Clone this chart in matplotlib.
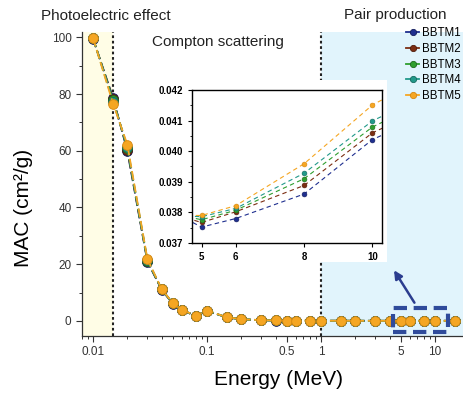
import matplotlib
matplotlib.use("Agg")
import matplotlib.pyplot as plt
from matplotlib.lines import Line2D
from matplotlib.patches import Rectangle
from matplotlib.ticker import LogLocator, MultipleLocator, NullFormatter, FixedLocator, FormatStrFormatter

plt.rcParams["font.family"] = ["Liberation Sans", "DejaVu Sans"]

# photon energy (MeV)
energy = [0.01, 0.015, 0.02, 0.03, 0.04, 0.05, 0.06, 0.08, 0.1, 0.15, 0.2, 0.3, 0.4,
          0.5, 0.6, 0.8, 1, 1.5, 2, 3, 4, 5, 6, 8, 10, 15]

# mass attenuation coefficient (cm2/g)
bbtm1 = [99.5, 78.7, 59.9, 20.9, 11.0, 6.1, 3.8, 1.75, 3.5, 1.22, 0.60, 0.24, 0.15,
         0.115, 0.092, 0.072, 0.062, 0.050, 0.044, 0.0393, 0.0381, 0.03752, 0.03780, 0.03860, 0.04038, 0.0429]
bbtm2 = [99.6, 78.3, 60.4, 21.1, 11.1, 6.15, 3.85, 1.77, 3.55, 1.23, 0.61, 0.245, 0.155,
         0.117, 0.093, 0.073, 0.063, 0.051, 0.0445, 0.0395, 0.0380, 0.03767, 0.03802, 0.03888, 0.04060, 0.0432]
bbtm3 = [99.7, 77.9, 60.9, 21.3, 11.15, 6.2, 3.88, 1.79, 3.58, 1.24, 0.615, 0.248, 0.157,
         0.118, 0.094, 0.074, 0.063, 0.051, 0.045, 0.0396, 0.0380, 0.03776, 0.03807, 0.03910, 0.04079, 0.0435]
bbtm4 = [99.7, 77.3, 61.5, 21.5, 11.2, 6.25, 3.9, 1.8, 3.6, 1.25, 0.62, 0.25, 0.16,
         0.12, 0.095, 0.075, 0.064, 0.052, 0.0455, 0.0397, 0.0379, 0.03786, 0.03813, 0.03928, 0.04099, 0.0437]
bbtm5 = [99.8, 76.6, 62.2, 21.8, 11.3, 6.3, 3.95, 1.82, 3.65, 1.27, 0.63, 0.255, 0.162,
         0.122, 0.097, 0.076, 0.065, 0.053, 0.046, 0.0398, 0.0379, 0.03790, 0.03822, 0.03959, 0.04151, 0.0445]

names = ["BBTM1", "BBTM2", "BBTM3", "BBTM4", "BBTM5"]
series = [bbtm1, bbtm2, bbtm3, bbtm4, bbtm5]
colors = ["#1f2f8f", "#7b2d12", "#2e9e2e", "#22998a", "#f5a623"]
edges = ["#141d5c", "#4f1c0b", "#1d6a1d", "#166a5f", "#d6870f"]

xticks = [0.01, 0.1, 0.5, 1, 5, 10]
xticklabels = ["0.01", "0.1", "0.5", "1", "5", "10"]
inset_xticks = [5, 6, 8, 10]

fig = plt.figure(figsize=(4.63, 3.99), dpi=100)
ax = fig.add_axes([0.177, 0.158, 0.823, 0.762])

xmin, xmax = 0.0080, 17.6
ax.axvspan(xmin, 0.015, color="#fffde6", lw=0, zorder=0)
ax.axvspan(1, xmax, color="#e1f4fc", lw=0, zorder=0)
ax.axvline(0.015, color="#222222", lw=1.5, ls=(0, (1.3, 1.3)), zorder=1)
ax.axvline(1, color="#222222", lw=1.5, ls=(0, (1.3, 1.3)), zorder=1)

for name, y, c, ec in zip(names, series, colors, edges):
    ax.plot(energy, y, color=c, lw=1.3, ls=(0, (5, 2)), marker="o", ms=7,
            mfc=c, mec=ec, mew=0.6, zorder=3)

ax.set_xscale("log")
ax.set_xlim(xmin, xmax)
ax.set_ylim(-5.3, 101.9)
ax.xaxis.set_major_locator(FixedLocator(xticks))
ax.set_xticklabels(xticklabels)
ax.xaxis.set_minor_locator(LogLocator(base=10, subs=range(2, 10)))
ax.xaxis.set_minor_formatter(NullFormatter())
ax.yaxis.set_major_locator(MultipleLocator(20))
ax.yaxis.set_minor_locator(MultipleLocator(10))
ax.tick_params(which="major", direction="out", length=4, width=0.8, labelsize=8.5,
               colors="#333333")
ax.tick_params(which="minor", direction="out", length=2.5, width=0.7, colors="#333333")
for s in ["top", "right"]:
    ax.spines[s].set_visible(False)
for s in ["left", "bottom"]:
    ax.spines[s].set_color("#333333")
    ax.spines[s].set_linewidth(0.9)

ax.set_xlabel("Energy (MeV)", fontsize=15)
ax.set_ylabel("MAC (cm²/g)", fontsize=15)
ax.xaxis.set_label_coords(0.517, -0.112)
ax.yaxis.set_label_coords(-0.129, 0.42)

# highlighted region and arrow to the inset
ax.add_patch(Rectangle((4.25, -3.8), 12.9 - 4.25, 8.4, fill=False, ec="#2f4b9b",
                       lw=3, ls=(0, (3.2, 1.6)), zorder=5))
ax.annotate("", xy=(4.24, 18.7), xytext=(6.8, 5.6),
            arrowprops=dict(arrowstyle="-|>", color="#2b3d8f", lw=1.8, mutation_scale=12),
            zorder=5)

handles = [Line2D([], [], color=c, lw=1.3, marker="o", ms=4.5, mfc=c, mec=ec, mew=0.6)
           for c, ec in zip(colors, edges)]
ax.legend(handles, names, loc="upper left", bbox_to_anchor=(406 / 463, 1 - 27 / 399),
          bbox_transform=fig.transFigure, frameon=False, fontsize=8.3, handlelength=1.15,
          handletextpad=0.25, labelspacing=0.33, borderpad=0, borderaxespad=0)

fig.text(106 / 463, 1 - 16 / 399, "Photoelectric effect", fontsize=11, ha="center",
         va="center", color="#222222")
fig.text(395 / 463, 1 - 15 / 399, "Pair production", fontsize=11, ha="center",
         va="center", color="#222222")
fig.text(218 / 463, 1 - 42 / 399, "Compton scattering", fontsize=11, ha="center",
         va="center", color="#222222")

# white backing behind the inset
fig.add_artist(Rectangle((300 / 463, 1 - 262 / 399), 87 / 463, 182 / 399,
                         transform=fig.transFigure, fc="white", ec="none", zorder=1))

axi = fig.add_axes([192 / 463, 1 - 243 / 399, 190 / 463, 153 / 399])
axi.set_zorder(3)
for name, y, c, ec in zip(names, series, colors, edges):
    axi.plot(energy, y, color=c, lw=0.8, ls=(0, (4, 3)), marker="o", ms=3.5,
             mfc=c, mec=ec, mew=0.4)
axi.set_xlim(4.72, 10.28)
axi.set_ylim(0.037, 0.042)
axi.xaxis.set_major_locator(FixedLocator(inset_xticks))
axi.yaxis.set_major_locator(MultipleLocator(0.001))
axi.yaxis.set_minor_locator(MultipleLocator(0.0005))
axi.yaxis.set_major_formatter(FormatStrFormatter("%.3f"))
axi.tick_params(which="major", direction="out", length=3, width=0.8, labelsize=7)
axi.tick_params(which="minor", direction="out", length=1.8, width=0.6)
for lab in axi.get_xticklabels() + axi.get_yticklabels():
    lab.set_fontweight("bold")
for s in axi.spines.values():
    s.set_linewidth(1.0)

fig.savefig("out.png", dpi=100)
